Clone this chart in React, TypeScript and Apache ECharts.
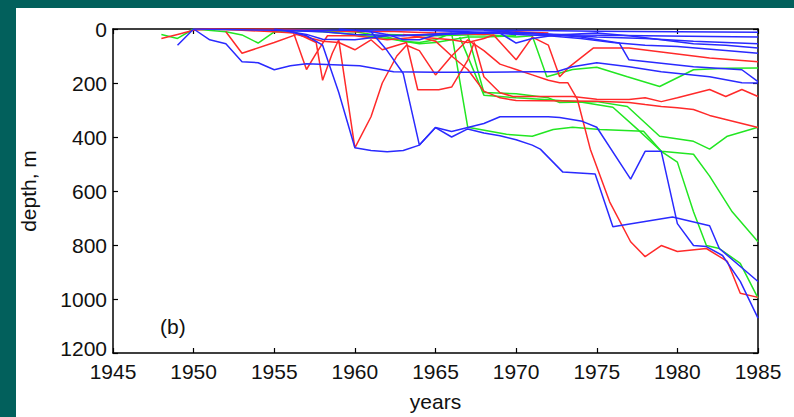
import React, { useEffect, useRef } from "react";
import * as echarts from "echarts";

// Tick labels
const xTicks = [1945, 1950, 1955, 1960, 1965, 1970, 1975, 1980, 1985];
const yTicks = [0, 200, 400, 600, 800, 1000, 1200];

// Blue profiles: [year, depth m]
const blue1 = [[1949,60],[1950,0],[1951,40],[1952,55],[1953,121],[1954,125],[1955,151],[1956,136],[1957,129],[1960.3,136],[1962.4,158],[1965,160],[1968,160],[1971,158],[1972.5,158],[1973.5,140],[1975,125],[1977,140],[1979,158],[1982,177],[1984,199],[1985,200]];
const blue2 = [[1956,10],[1957,25],[1958,60],[1959,235],[1960,440],[1961,450],[1962,455],[1963,450],[1964,430],[1965,365],[1966,380],[1967,365],[1968,350],[1969,325],[1970,325],[1972,325],[1972.7,328],[1974.1,342],[1975,364],[1977.1,556],[1978,453],[1979,453],[1980,721],[1981,802],[1981.8,806],[1982.8,839],[1983.9,935],[1985,1071]];
const blue3 = [[1960,5],[1961,10],[1962,80],[1963,165],[1964,430],[1965,365],[1966,400],[1967,370],[1968,385],[1969,395],[1970,410],[1971,430],[1971.5,445],[1972.9,530],[1974.9,537],[1976,732],[1979.7,696],[1982,729],[1982.6,813],[1985,935]];
const blue4 = [[1950,0],[1955,5],[1960,5],[1965,3],[1970,5],[1975,8],[1980,10],[1985,12]];
const blue5 = [[1955,5],[1958,10],[1960,20],[1963,25],[1966,15],[1969,10],[1972,20],[1975,30],[1978,35],[1981,45],[1983,50],[1985,55]];
const blue6 = [[1959,0],[1961,10],[1962,20],[1963,40],[1964,40],[1965,22],[1967,15],[1969,15],[1970,52],[1971,35],[1972.5,22],[1975,15],[1977,25],[1979,40],[1981,55],[1983,60],[1985,70]];
const blue7 = [[1964,5],[1967,10],[1970,20],[1972,25],[1974,35],[1976,50],[1978,60],[1980,65],[1983,80],[1985,90]];
const blue8 = [[1968,5],[1971,15],[1974,30],[1976.4,52],[1977,114],[1981,140],[1984,151],[1985,195]];
const blue9 = [[1955,0],[1957,20],[1958,38],[1960,40],[1962,25],[1965,20],[1968,15],[1971,18],[1974,22],[1978,25],[1982,28],[1985,30]];

// Red profiles
const red1 = [[1948,35],[1949,20],[1950,5],[1951,0],[1953,5],[1955,10],[1956.2,15],[1957,150],[1957.6,90],[1958.3,25],[1960,25],[1962,40],[1964,30],[1966,40],[1967,50],[1968,35],[1968.6,22],[1970,114],[1971,30],[1972,60],[1972.7,177],[1973.3,140],[1974.8,70],[1977,70],[1979,85],[1982,107],[1985,121]];
const red2 = [[1952,10],[1953,90],[1955,50],[1956.4,20],[1958,45],[1959,50],[1960,77],[1961,40],[1961.7,77],[1963.2,50],[1963.9,225],[1965.2,225],[1966,215],[1967,115],[1967.4,50],[1968,177],[1969,236],[1969.8,250],[1973.5,250],[1975,260],[1977,261],[1978,255],[1979,269],[1980,255],[1982,224],[1983,250],[1984,224],[1985,250]];
const red3 = [[1956,5],[1957.6,50],[1958,190],[1958.6,90],[1959,40],[1960,440],[1961,325],[1961.7,200],[1962.6,100],[1963.2,60],[1964,80],[1965,170],[1966,100],[1967,40],[1968,80],[1969,130],[1970,150],[1971,170],[1972,190],[1972.7,199],[1973.2,199],[1973.8,261],[1974.6,445],[1975.8,640],[1977.1,788],[1978,843],[1979,802],[1980,824],[1981.8,813],[1983.1,861],[1983.9,979],[1985,994]];
const red4 = [[1963,20],[1964,30],[1965,45],[1966,100],[1967,150],[1968,230],[1969,255],[1970,265],[1975,268],[1977,272],[1978,280],[1979,287],[1980,292],[1981,298],[1982,320],[1983,335],[1984,350],[1985,365]];
const red5 = [[1950,0],[1955,0],[1958,5],[1960,10],[1962,8],[1965,15],[1968,20],[1970,10],[1972,15]];

// Green profiles
const green1 = [[1948,20],[1949,35],[1950,0],[1952,10],[1953,22],[1954,52],[1955,11],[1956,5],[1958,10],[1960,20],[1962,35],[1964,55],[1965,50],[1966,40],[1967,30],[1968,30],[1970,25]];
const green2 = [[1955,5],[1960,10],[1962,30],[1963,45],[1964,50],[1965,40],[1966,15],[1967,364],[1969.4,390],[1971,397],[1972.3,372],[1973.5,364],[1975.2,372],[1977.9,379],[1979,453],[1981,464],[1982,545],[1983.4,677],[1985,788]];
const green3 = [[1967,20],[1968,235],[1970,240],[1972,255],[1972.7,272],[1975,269],[1976.9,287],[1978.9,397],[1981,416],[1982,445],[1983.1,397],[1985,364]];
const green4 = [[1966.5,30],[1968,245],[1970,255],[1972,262],[1974,270],[1976,290],[1977.5,370],[1979,453],[1980,493],[1981,677],[1981.8,802],[1982.6,813],[1983.9,868],[1985,997]];
const green5 = [[1962,20],[1965,25],[1968,20],[1970,30],[1971,25],[1971.9,177],[1973.5,150],[1975,142],[1976.9,177],[1978.9,213],[1981,151],[1983,145],[1985,144]];

const blueLines = [blue1, blue2, blue3, blue4, blue5, blue6, blue7, blue8, blue9];
const redLines = [red1, red2, red3, red4, red5];
const greenLines = [green1, green2, green3, green4, green5];

const BLUE = "#2a2aff";
const RED = "#ff2a2a";
const GREEN = "#22e622";
const TEAL = "#02605c";
const FONT = "'Liberation Sans Narrow', 'Arial Narrow', 'Liberation Sans', sans-serif";
const FS = 21;

export default function App() {
  const ref = useRef<HTMLDivElement>(null);
  useEffect(() => {
    const chart = echarts.init(ref.current!, null, { renderer: "svg" });
    const mk = (lines: number[][][], color: string, name: string) =>
      lines.map((d, i) => ({
        name: name + (i + 1),
        type: "line",
        data: d,
        showSymbol: false,
        symbol: "none",
        lineStyle: { color, width: 1.5 },
        z: 3,
      }));
    const axisLine = { show: true, onZero: false, lineStyle: { color: "#000", width: 1.5 } };
    const tick = { show: true, inside: true, length: 5, lineStyle: { color: "#000", width: 1.2 } };
    const txt = { fontSize: FS, fontFamily: FONT, color: "#111" };
    const yMax = yTicks[yTicks.length - 1];
    chart.setOption({
      animation: false,
      backgroundColor: "#fff",
      grid: { left: 113, right: 36, top: 29, bottom: 62, show: false },
      graphic: [
        { type: "rect", shape: { x: 0, y: 0, width: 16, height: 417 }, style: { fill: TEAL }, z: 100 },
        { type: "rect", shape: { x: 0, y: 0, width: 794, height: 8 }, style: { fill: TEAL }, z: 100 },
        { type: "text", left: 160, top: 316, style: { text: "(b)", font: FS + "px " + FONT, fill: "#111" }, z: 100 },
      ],
      xAxis: [
        {
          type: "value", min: xTicks[0], max: xTicks[xTicks.length - 1], interval: 5, position: "bottom",
          axisLine, axisTick: tick, splitLine: { show: false },
          axisLabel: { ...txt, margin: 8, formatter: (v: number) => String(v) },
          name: "years", nameLocation: "middle", nameGap: 38,
          nameTextStyle: txt,
        },
        {
          type: "value", min: xTicks[0], max: xTicks[xTicks.length - 1], interval: 5, position: "top",
          axisLine, axisTick: tick, axisLabel: { show: false }, splitLine: { show: false },
        },
      ],
      yAxis: [
        {
          type: "value", inverse: true, min: yTicks[0], max: yMax, interval: 200, position: "left",
          axisLine, axisTick: tick, splitLine: { show: false },
          axisLabel: {
            ...txt, margin: 6,
            formatter: (v: number) => (v === yMax ? "{low|" + v + "}" : String(v)),
            rich: { low: { ...txt, padding: [0, 0, 9, 0] } },
          },
          name: "depth, m", nameLocation: "middle", nameGap: 74, nameRotate: 90,
          nameTextStyle: txt,
        },
        {
          type: "value", inverse: true, min: yTicks[0], max: yMax, interval: 200, position: "right",
          axisLine, axisTick: tick, axisLabel: { show: false }, splitLine: { show: false },
        },
      ],
      series: [
        ...mk(greenLines, GREEN, "g"),
        ...mk(redLines, RED, "r"),
        ...mk(blueLines, BLUE, "b"),
      ],
    });
    return () => chart.dispose();
  }, []);
  return <div ref={ref} style={{ position: "fixed", left: 0, top: 0, width: 794, height: 417 }} />;
}
